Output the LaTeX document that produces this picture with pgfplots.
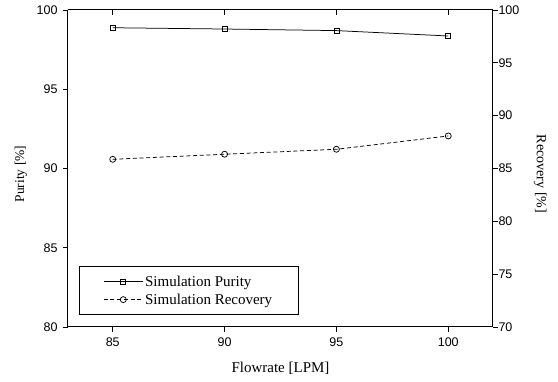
\documentclass[border=0pt]{standalone}
\usepackage{pgfplots}
\pgfplotsset{compat=1.18}
\usepackage{fontspec}
\setmainfont{Liberation Serif}
\newfontfamily\arialf{Liberation Sans}
\begin{document}
\begin{tikzpicture}
\pgfplotsset{
  base/.style={
    width=425pt, height=317pt, scale only axis,
    xmin=83, xmax=102,
    xtick={85,90,95,100},
    tick label style={font=\arialf\fontsize{12.5}{14}\selectfont},
    /pgf/number format/assume math mode=true,
    major tick length=5pt,
    tick align=outside,
    every tick/.style={black, line width=0.7pt},
    axis line style={line width=1pt},
  }
}
\begin{axis}[base, name=ax,
  axis y line*=left,
  axis x line*=bottom,
  ymin=80, ymax=100,
  ytick={80,85,90,95,100},
  ylabel={Purity [\%]},
  xlabel={Flowrate [LPM]},
  ylabel style={at={(axis description cs:-0.1035,0.4826)}, anchor=base, font=\fontsize{13.5}{16}\selectfont},
  xlabel style={at={(axis description cs:0.5,-0.142)}, anchor=base, font=\fontsize{15}{18}\selectfont},
  xticklabel style={yshift=-2pt},
  yticklabel style={xshift=-2pt},
]
\addplot[black, line width=0.75pt, mark=square, mark size=2.5pt, mark options={solid}]
  coordinates {(85,98.88) (90,98.8) (95,98.7) (100,98.36)};
\end{axis}
\begin{axis}[base,
  axis y line*=right,
  axis x line*=top,
  xticklabels={},
  tick align=inside,
  ymin=70, ymax=100,
  ytick={70,75,80,85,90,95,100},
  y tick style={/pgfplots/tick align=outside},
  ylabel={Recovery [\%]},
  ylabel style={at={(axis description cs:1.1035,0.4826)}, anchor=base, rotate=180, font=\fontsize{14}{16}\selectfont},
  yticklabel style={xshift=2pt},
  legend style={at={(axis description cs:0.0259,0.0379)}, anchor=south west, draw=black, line width=0.8pt,
    font=\fontsize{15}{18}\selectfont, row sep=2pt, inner xsep=24pt, inner ysep=7pt},
  legend cell align=left,
  legend image code/.code={\draw[mark repeat=2,mark phase=2,#1] plot coordinates {(0pt,0pt) (19.5pt,0pt) (39pt,0pt)};},
]
\addlegendimage{black, line width=0.75pt, mark=square, mark size=2.5pt}
\addlegendentry{Simulation Purity}
\addplot[black, line width=0.75pt, dash pattern=on 4pt off 2.7pt, mark=o, mark size=3pt, mark options={solid}]
  coordinates {(85,85.87) (90,86.35) (95,86.82) (100,88.08)};
\addlegendentry{Simulation Recovery}
\end{axis}
\pgfresetboundingbox
\path (ax.south west) ++(-68pt,-55pt) rectangle ++(558pt,382pt);
\end{tikzpicture}
\end{document}
